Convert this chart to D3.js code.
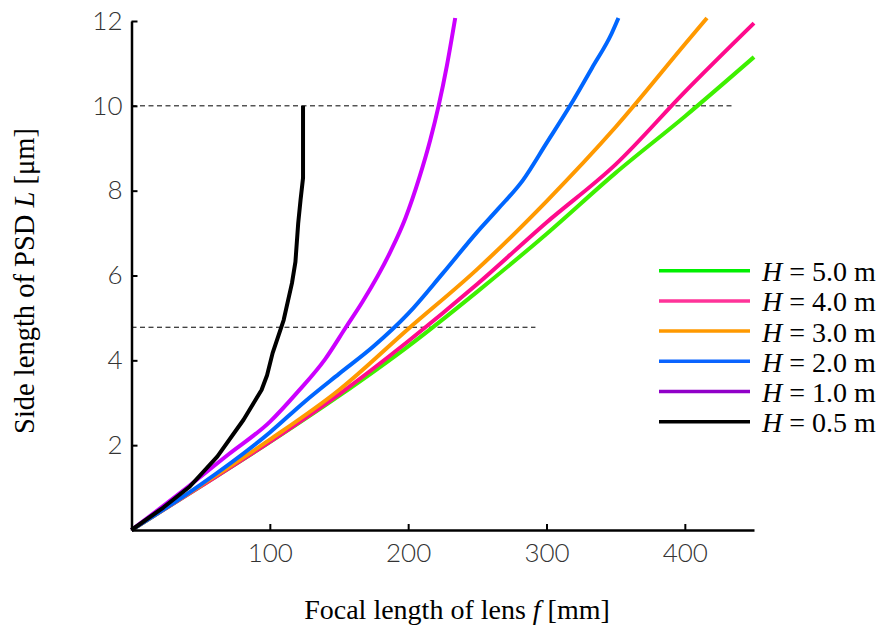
<html>
<script src="https://d3js.org/d3.v7.min.js"></script>
<style>
    body { margin: 0; background: #fff; }
</style>

<body>
    <script>
        var width = 881;
        var height = 631;

        // series data: [focal length f (mm), side length L (um)]
        var h50 = [[0, 0], [50, 1.03], [100, 2.07], [150, 3.16], [200, 4.33], [250, 5.62], [300, 6.98], [350, 8.42], [400, 9.75], [450, 11.15]];
        var h40 = [[0, 0], [50, 1.03], [100, 2.08], [150, 3.2], [200, 4.45], [250, 5.8], [300, 7.25], [350, 8.62], [400, 10.33], [450, 11.95]];
        var h30 = [[0, 0], [50, 1.05], [100, 2.13], [150, 3.3], [200, 4.74], [250, 6.15], [300, 7.75], [350, 9.5], [400, 11.45], [416, 12.07]];
        var h20 = [[0, 0], [50, 1.07], [100, 2.3], [125, 3.02], [150, 3.68], [175, 4.33], [200, 5.1], [225, 6.05], [250, 7.03], [265, 7.57], [283, 8.25], [300, 9.12], [317, 10.0], [333, 10.9], [347, 11.7], [352, 12.07]];
        var h10 = [[0, 0], [35, 0.87], [70, 1.78], [100, 2.55], [120, 3.25], [140, 4.03], [155, 4.78], [167, 5.38], [187, 6.55], [198, 7.35], [208, 8.3], [216, 9.2], [222, 10.0], [228, 10.95], [234, 12.07]];
        var h05 = [[0, 0], [23, 0.53], [42, 1.02], [62, 1.73], [81, 2.6], [94, 3.3], [98, 3.65], [102, 4.17], [110, 4.95], [116, 5.82], [118.5, 6.32], [120.5, 7.23], [122.2, 7.78], [124, 8.3], [124, 10.0]];

        var seriesNames = ["5.0", "4.0", "3.0", "2.0", "1.0", "0.5"];
        var seriesData = [h50, h40, h30, h20, h10, h05];
        var lineColors = ["#3ef000", "#ff0a8c", "#ff9900", "#0066ff", "#cc00ff", "#000000"];
        var keyColors = ["#00f000", "#ff3399", "#ff9900", "#0a64ff", "#9000c8", "#000000"];

        var xMajor = [100, 200, 300, 400];
        var xMinor = d3.range(20, 450, 20).filter(d => d % 100 != 0);
        var yMajor = [2, 4, 6, 8, 10, 12];
        var yMinor = d3.range(0.5, 12, 0.5).filter(d => d % 2 != 0);

        // reference lines: [L, f end]
        var refLines = [[10, 434.5], [4.78, 292]];

        var svg = d3.select("body").append("svg")
            .attr("width", width)
            .attr("height", height);

        var x = d3.scaleLinear().domain([0, 450]).range([131.5, 754]);
        var y = d3.scaleLinear().domain([0, 12]).range([530, 21]);

        // dashed guides
        svg.selectAll(".ref").data(refLines).enter().append("line")
            .attr("class", "ref")
            .attr("x1", x(0))
            .attr("x2", d => x(d[1]))
            .attr("y1", d => y(d[0]))
            .attr("y2", d => y(d[0]))
            .attr("stroke", "black")
            .attr("stroke-width", 1)
            .attr("stroke-dasharray", "5,3.5");

        // curves
        var line = d3.line()
            .x(d => x(d[0]))
            .y(d => y(d[1]))
            .curve(d3.curveMonotoneX);
        var lineStraight = d3.line()
            .x(d => x(d[0]))
            .y(d => y(d[1]));

        svg.selectAll(".curve").data(seriesData).enter().append("path")
            .attr("class", "curve")
            .attr("fill", "none")
            .attr("stroke", (d, i) => lineColors[i])
            .attr("stroke-width", 4)
            .attr("stroke-linejoin", "round")
            .attr("d", (d, i) => i == 5 ? lineStraight(d) : line(d));

        // axes
        var tickFont = "Lato, 'DejaVu Sans', sans-serif";

        var gx = svg.append("g").attr("transform", `translate(0,${y(0)})`);
        gx.call(d3.axisBottom(x).tickValues(xMinor).tickSizeInner(-3.5).tickSizeOuter(0).tickFormat(""));
        gx.call(d3.axisBottom(x).tickValues(xMajor).tickSizeInner(-6).tickSizeOuter(0).tickPadding(14));

        var gy = svg.append("g").attr("transform", `translate(${x(0)},0)`);
        gy.call(d3.axisLeft(y).tickValues(yMinor).tickSizeInner(-3.5).tickSizeOuter(0).tickFormat(""));
        gy.call(d3.axisLeft(y).tickValues(yMajor).tickSizeInner(-6).tickSizeOuter(0).tickPadding(9));

        svg.selectAll(".domain").attr("stroke", "black").attr("stroke-width", 2.5);
        svg.selectAll(".tick line").attr("stroke", "black").attr("stroke-width", 2);
        svg.selectAll(".tick text")
            .attr("font-family", tickFont)
            .attr("font-weight", 300)
            .attr("font-size", 26)
            .attr("fill", "#333");

        // axis titles
        var serif = "'Liberation Serif', 'Times New Roman', serif";
        var xt = svg.append("text")
            .attr("x", 457)
            .attr("y", 619)
            .attr("text-anchor", "middle")
            .attr("font-family", serif)
            .attr("font-size", 28);
        xt.append("tspan").text("Focal length of lens ");
        xt.append("tspan").attr("font-style", "italic").text("f");
        xt.append("tspan").text(" [mm]");

        var yt = svg.append("text")
            .attr("transform", "translate(34,281) rotate(-90)")
            .attr("text-anchor", "middle")
            .attr("font-family", serif)
            .attr("font-size", 28.5);
        yt.append("tspan").text("Side length of PSD ");
        yt.append("tspan").attr("font-style", "italic").text("L");
        yt.append("tspan").text(" [\u03bcm]");

        // legend
        var key = svg.selectAll(".key").data(seriesNames).enter().append("g")
            .attr("class", "key")
            .attr("transform", (d, i) => `translate(659,${270.7 + i * 30.2})`);
        key.append("line")
            .attr("x1", 0)
            .attr("x2", 91)
            .attr("stroke", (d, i) => keyColors[i])
            .attr("stroke-width", 3.5);
        var kt = key.append("text")
            .attr("x", 103)
            .attr("y", 10.5)
            .attr("font-family", serif)
            .attr("font-size", 28);
        kt.append("tspan").attr("font-style", "italic").text("H");
        kt.append("tspan").text(d => " = " + d + " m");
    </script>
</body>

</html>
